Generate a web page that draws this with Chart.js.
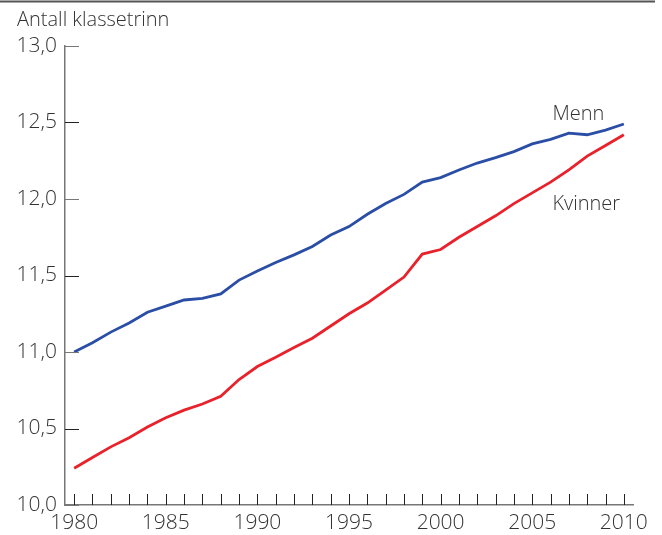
<!DOCTYPE html>
<html>
<head>
<meta charset="utf-8">
<script src="https://cdn.jsdelivr.net/npm/chart.js@4"></script>
<style>
  html, body { margin: 0; padding: 0; background: #fff; }
  #wrap { width: 662px; height: 535px; }
</style>
</head>
<body>
<div id="wrap"><canvas id="myChart"></canvas></div>
<script>
// ============  data ============ //
const years = [1980, 1981, 1982, 1983, 1984, 1985, 1986, 1987, 1988, 1989,
    1990, 1991, 1992, 1993, 1994, 1995, 1996, 1997, 1998, 1999,
    2000, 2001, 2002, 2003, 2004, 2005, 2006, 2007, 2008, 2009, 2010];
const menn = [11.00, 11.06, 11.13, 11.19, 11.26, 11.30, 11.34, 11.35, 11.38, 11.47,
    11.53, 11.585, 11.635, 11.69, 11.765, 11.82, 11.90, 11.97, 12.03, 12.11,
    12.14, 12.19, 12.235, 12.27, 12.31, 12.36, 12.39, 12.43, 12.42, 12.45, 12.49];
const kvinner = [10.24, 10.31, 10.38, 10.44, 10.51, 10.57, 10.62, 10.66, 10.71, 10.82,
    10.905, 10.965, 11.03, 11.09, 11.17, 11.25, 11.32, 11.405, 11.49, 11.64,
    11.67, 11.75, 11.82, 11.89, 11.97, 12.04, 12.11, 12.19, 12.28, 12.35, 12.42];
const yTicks = [10.0, 10.5, 11.0, 11.5, 12.0, 12.5, 13.0];
const seriesNames = ['Menn', 'Kvinner'];
const yTitle = 'Antall klassetrinn';

const FONT = '"Open Sans", "Noto Sans", sans-serif';

// tick marks inside the plot + title, labels and top rule
const extras = {
    id: 'extras',
    afterDraw(chart) {
        const ctx = chart.ctx;
        const x = chart.scales.x, y = chart.scales.y;
        const left = chart.chartArea.left, bottom = chart.chartArea.bottom;
        ctx.save();
        // top rule
        ctx.strokeStyle = '#555';
        ctx.lineWidth = 2;
        ctx.beginPath(); ctx.moveTo(0, 1.5); ctx.lineTo(655, 1.5); ctx.stroke();
        // y ticks (pointing right)
        ctx.lineWidth = 1;
        yTicks.forEach((v, i) => {
            const py = Math.round(y.getPixelForValue(v)) + 0.5;
            ctx.strokeStyle = (i % 2 === 0) ? '#777' : '#222';
            ctx.beginPath(); ctx.moveTo(left, py); ctx.lineTo(left + 14, py); ctx.stroke();
        });
        // x ticks (pointing up)
        ctx.strokeStyle = '#222';
        years.forEach(yr => {
            const px = Math.round(x.getPixelForValue(yr)) + 0.5;
            ctx.beginPath(); ctx.moveTo(px, bottom); ctx.lineTo(px, bottom - 11); ctx.stroke();
        });
        // text
        ctx.fillStyle = '#333';
        ctx.font = '300 20px ' + FONT;
        ctx.textBaseline = 'middle';
        ctx.textAlign = 'left';
        ctx.fillText(yTitle, 17, 20);
        ctx.fillText(seriesNames[0], x.getPixelForValue(2006.1), y.getPixelForValue(12.556));
        ctx.fillText(seriesNames[1], x.getPixelForValue(2006.1), y.getPixelForValue(11.966));
        ctx.restore();
    }
};

const ctx = document.getElementById('myChart').getContext('2d');

let lineChart = new Chart(ctx, {
    type: 'line',
    data: {
        datasets: [{
            label: seriesNames[0],
            data: years.map((yr, i) => ({ x: yr, y: menn[i] })),
            borderColor: '#2a4ea6',
            borderWidth: 2.8,
            pointRadius: 0,
            tension: 0
        }, {
            label: seriesNames[1],
            data: years.map((yr, i) => ({ x: yr, y: kvinner[i] })),
            borderColor: '#e8212b',
            borderWidth: 2.8,
            pointRadius: 0,
            tension: 0
        }]
    },
    options: {
        responsive: true,
        maintainAspectRatio: false,
        animation: false,
        layout: { padding: { left: 0, top: 46, right: 29, bottom: 0 } },
        plugins: {
            legend: { display: false },
            tooltip: { enabled: false }
        },
        scales: {
            x: {
                type: 'linear',
                min: 1979.5,
                max: 2010.5,
                afterFit(scale) { scale.height = 30; },
                border: { color: '#777', width: 1.5 },
                grid: { display: false, drawTicks: false },
                ticks: {
                    autoSkip: false,
                    maxRotation: 0,
                    padding: 5,
                    color: '#333',
                    font: { family: FONT, size: 21, weight: 300 },
                    callback: v => String(v)
                },
                afterBuildTicks(scale) {
                    scale.ticks = years.filter(yr => yr % 5 === 0).map(yr => ({ value: yr }));
                }
            },
            y: {
                min: 10,
                max: 13,
                afterFit(scale) { scale.width = 65; },
                border: { color: '#777', width: 1.5 },
                grid: { display: false, drawTicks: false },
                ticks: {
                    stepSize: 0.5,
                    padding: 8,
                    color: '#333',
                    font: { family: FONT, size: 21, weight: 300 },
                    callback: v => v.toFixed(1).replace('.', ',')
                }
            }
        }
    },
    plugins: [extras]
});
</script>
</body>
</html>
